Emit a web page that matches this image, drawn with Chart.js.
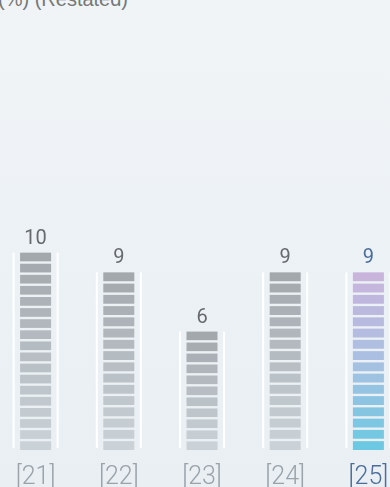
<!DOCTYPE html>
<html>
<head>
<meta charset="utf-8">
<script src="https://cdn.jsdelivr.net/npm/chart.js@4/dist/chart.umd.min.js"></script>
<style>
html,body{margin:0;padding:0;width:390px;height:487px;overflow:hidden;background:linear-gradient(#f0f4f7,#e9eff3);}
#title{position:absolute;left:-2px;top:-12px;font:20px "Liberation Sans",Arial,sans-serif;color:#777;white-space:nowrap;}
#wrap{position:absolute;left:-6px;top:0;width:416px;height:498px;}
</style>
</head>
<body>
<div id="title">(%) (Restated)</div>
<div id="wrap"><canvas id="c" width="416" height="498"></canvas></div>
<script>
const categories = ['21', '22', '23', '24', '25'];
const values = [10, 9, 6, 9, 9];
const tickLabels = ['[21]', '[22]', '[23]', '[24]', '[25]'];
const highlightIndex = 4;

const grayStops = ['#a3a8ad', '#cad2d8'];
const hiStops = ['#c9b4dc', '#a9c0e2', '#6dc9e2'];

function hexToRgb(h){h=h.replace('#','');return [0,2,4].map(i=>parseInt(h.substr(i,2),16));}
function mix(stops,t){
  const n=stops.length-1; const s=Math.min(n-1,Math.floor(t*n)); const lt=t*n-s;
  const a=hexToRgb(stops[s]), b=hexToRgb(stops[s+1]);
  return 'rgb('+a.map((v,i)=>Math.round(v+(b[i]-v)*lt)).join(',')+')';
}

const segPlugin = {
  id:'segments',
  afterDatasetsDraw(chart){
    const ctx=chart.ctx;
    const meta=chart.getDatasetMeta(0);
    meta.data.forEach((el,i)=>{
      const {x,y,base,width}=el.getProps(['x','y','base','width'],true);
      const left=x-width/2;
      ctx.save();
      ctx.fillStyle='#ffffff';
      ctx.fillRect(left,y,2,base-y-2);
      ctx.fillRect(left+width-2,y,2,base-y-2);
      const inset=7.5;
      const gap=2.4;
      const h=base-y;
      const n=Math.max(1,Math.round((h+gap)/11.1));
      const p=(h+gap)/n;
      const stops = i===highlightIndex?hiStops:grayStops;
      for(let k=0;k<n;k++){
        const t=n>1?k/(n-1):0;
        ctx.fillStyle=mix(stops,t);
        ctx.fillRect(left+inset,y+k*p,width-2*inset,p-gap);
      }
      ctx.fillStyle= i===highlightIndex?'#4a6d99':'#666a6e';
      ctx.font='400 20px Roboto, "Liberation Sans", sans-serif';
      ctx.textAlign='center';
      ctx.textBaseline='middle';
      ctx.fillText(String(values[i]),x,y-14);
      ctx.restore();
    });
  }
};

new Chart(document.getElementById('c'),{
  type:'bar',
  data:{
    labels:tickLabels,
    datasets:[{data:values,backgroundColor:'rgba(0,0,0,0)',borderWidth:0,barPercentage:0.553,categoryPercentage:1}]
  },
  options:{
    responsive:false,
    animation:false,
    layout:{padding:{top:0,bottom:0,left:0,right:0}},
    plugins:{legend:{display:false},tooltip:{enabled:false},title:{display:false}},
    scales:{
      x:{grid:{display:false},border:{display:false},
         ticks:{padding:5,color:(c)=>c.index===highlightIndex?'#4a6d99':'#9aa3aa',
                font:{family:'Roboto, "Liberation Sans", sans-serif',size:25,weight:300}}},
      y:{display:false,min:0,max:22.8}
    }
  },
  plugins:[segPlugin]
});
</script>
</body>
</html>
